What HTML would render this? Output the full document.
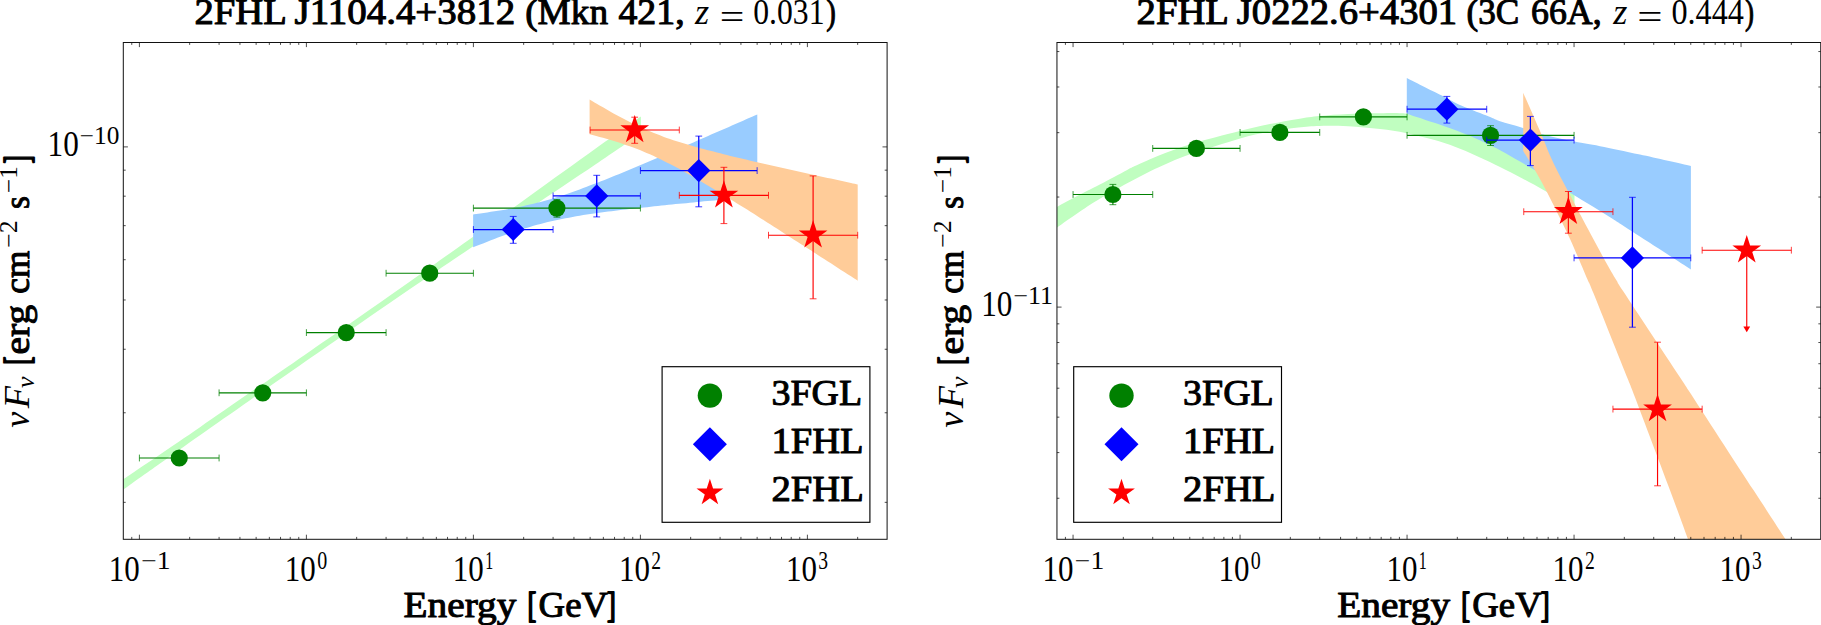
<!DOCTYPE html>
<html><head><meta charset="utf-8"><title>SED</title>
<style>html,body{margin:0;padding:0;background:#fff}svg{display:block}text{fill:#000}</style></head>
<body>
<svg width="1821" height="625" viewBox="0 0 1821 625" font-family="'Liberation Serif','DejaVu Serif',serif">
<rect width="1821" height="625" fill="#fff"/>
<defs>
<clipPath id="cl"><rect x="123.3" y="42.5" width="763.8" height="496.8"/></clipPath>
<clipPath id="cr"><rect x="1056.95" y="42.5" width="763.8" height="496.8"/></clipPath>
</defs>
<path d="M123.3 479.24C129.42 475.1 147.22 463.09 160 454.41C172.78 445.72 185 437.43 200 427.14C215 416.84 232.5 404.7 250 392.62C267.5 380.54 288.33 366.16 305 354.63C321.67 343.11 335.83 333.33 350 323.49C364.17 313.66 376.67 304.98 390 295.62C403.33 286.26 416.67 276.8 430 267.35C443.33 257.9 453.33 250.86 470 238.93C486.67 226.99 509.17 210.71 530 195.72C550.83 180.73 576.52 162.2 595 148.99C613.48 135.78 633.25 121.89 640.9 116.47L640.9 133.57C633.25 138.77 613.48 152.33 595 164.79C576.52 177.25 550.83 194.38 530 208.32C509.17 222.26 486.67 237.22 470 248.43C453.33 259.63 443.33 266.48 430 275.55C416.67 284.61 403.33 293.66 390 302.82C376.67 311.98 364.17 320.66 350 330.49C335.83 340.33 321.67 350.21 305 361.83C288.33 373.46 267.5 388 250 400.22C232.5 412.44 215 424.6 200 435.14C185 445.67 172.78 454.34 160 463.41C147.22 472.48 129.42 485.18 123.3 489.54Z" fill="#c0fec0" clip-path="url(#cl)"/>
<path d="M473.1 214.38C474.28 214.22 477.84 213.76 480.21 213.43C482.57 213.11 484.94 212.78 487.31 212.43C489.68 212.09 492.05 211.74 494.42 211.37C496.78 211 499.15 210.62 501.52 210.22C503.89 209.83 506.26 209.42 508.62 208.99C510.99 208.56 513.36 208.11 515.73 207.65C518.1 207.18 520.47 206.69 522.84 206.18C525.2 205.67 527.57 205.14 529.94 204.59C532.31 204.03 534.68 203.45 537.04 202.84C539.41 202.23 541.78 201.6 544.15 200.95C546.52 200.29 548.89 199.61 551.25 198.9C553.62 198.19 555.99 197.46 558.36 196.71C560.73 195.96 563.1 195.18 565.47 194.38C567.83 193.59 570.2 192.77 572.57 191.94C574.94 191.11 577.31 190.26 579.67 189.39C582.04 188.53 584.41 187.65 586.78 186.76C589.15 185.87 591.52 184.96 593.88 184.05C596.25 183.13 598.62 182.21 600.99 181.27C603.36 180.34 605.73 179.39 608.1 178.44C610.46 177.49 612.83 176.54 615.2 175.57C617.57 174.61 619.94 173.64 622.31 172.66C624.67 171.69 627.04 170.71 629.41 169.72C631.78 168.74 634.15 167.75 636.51 166.75C638.88 165.76 641.25 164.76 643.62 163.76C645.99 162.76 648.36 161.76 650.72 160.75C653.09 159.74 655.46 158.73 657.83 157.72C660.2 156.71 662.57 155.7 664.93 154.68C667.3 153.67 669.67 152.65 672.04 151.63C674.41 150.61 676.78 149.58 679.14 148.56C681.51 147.54 683.88 146.51 686.25 145.49C688.62 144.46 690.99 143.43 693.36 142.4C695.72 141.37 698.09 140.34 700.46 139.31C702.83 138.28 705.2 137.25 707.57 136.21C709.93 135.18 712.3 134.15 714.67 133.11C717.04 132.07 719.41 131.04 721.77 130C724.14 128.96 726.51 127.93 728.88 126.89C731.25 125.85 733.62 124.81 735.98 123.77C738.35 122.73 740.72 121.69 743.09 120.65C745.46 119.61 747.83 118.56 750.19 117.52C752.56 116.48 756.12 114.91 757.3 114.39L757.3 196.58C756.12 196.69 752.56 197 750.19 197.22C747.83 197.43 745.46 197.64 743.09 197.86C740.72 198.07 738.35 198.29 735.98 198.5C733.62 198.72 731.25 198.93 728.88 199.15C726.51 199.37 724.14 199.58 721.77 199.8C719.41 200.02 717.04 200.24 714.67 200.46C712.3 200.68 709.93 200.9 707.57 201.12C705.2 201.34 702.83 201.56 700.46 201.79C698.09 202.01 695.72 202.24 693.36 202.46C690.99 202.69 688.62 202.92 686.25 203.14C683.88 203.37 681.51 203.6 679.14 203.83C676.78 204.07 674.41 204.3 672.04 204.54C669.67 204.77 667.3 205.01 664.93 205.25C662.57 205.49 660.2 205.73 657.83 205.97C655.46 206.21 653.09 206.46 650.72 206.71C648.36 206.96 645.99 207.21 643.62 207.46C641.25 207.72 638.88 207.98 636.51 208.24C634.15 208.5 631.78 208.76 629.41 209.04C627.04 209.31 624.67 209.58 622.31 209.86C619.94 210.14 617.57 210.42 615.2 210.71C612.83 211.01 610.46 211.3 608.1 211.61C605.73 211.91 603.36 212.22 600.99 212.55C598.62 212.87 596.25 213.2 593.88 213.54C591.52 213.88 589.15 214.23 586.78 214.59C584.41 214.95 582.04 215.33 579.67 215.72C577.31 216.11 574.94 216.52 572.57 216.94C570.2 217.36 567.83 217.8 565.47 218.26C563.1 218.72 560.73 219.2 558.36 219.7C555.99 220.21 553.62 220.73 551.25 221.28C548.89 221.83 546.52 222.4 544.15 223C541.78 223.6 539.41 224.22 537.04 224.87C534.68 225.52 532.31 226.19 529.94 226.89C527.57 227.59 525.2 228.31 522.84 229.06C520.47 229.8 518.1 230.57 515.73 231.36C513.36 232.15 510.99 232.96 508.62 233.78C506.26 234.61 503.89 235.45 501.52 236.31C499.15 237.17 496.78 238.05 494.42 238.94C492.05 239.82 489.68 240.72 487.31 241.63C484.94 242.55 482.57 243.47 480.21 244.4C477.84 245.33 474.28 246.75 473.1 247.22Z" fill="#99ccff" clip-path="url(#cl)"/>
<path d="M589.6 99.43C590.72 100.09 594.07 102.1 596.3 103.41C598.54 104.73 600.77 106.04 603 107.33C605.24 108.62 607.47 109.9 609.71 111.16C611.94 112.42 614.18 113.67 616.41 114.89C618.64 116.11 620.88 117.32 623.11 118.5C625.35 119.68 627.58 120.84 629.82 121.97C632.05 123.1 634.28 124.2 636.52 125.27C638.75 126.34 640.99 127.39 643.22 128.4C645.45 129.41 647.69 130.39 649.92 131.33C652.16 132.28 654.39 133.19 656.62 134.08C658.86 134.96 661.09 135.81 663.33 136.63C665.56 137.45 667.8 138.25 670.03 139.02C672.26 139.79 674.5 140.53 676.73 141.25C678.97 141.97 681.2 142.67 683.44 143.36C685.67 144.04 687.9 144.7 690.14 145.35C692.37 146 694.61 146.64 696.84 147.26C699.07 147.88 701.31 148.49 703.54 149.09C705.78 149.69 708.01 150.28 710.25 150.86C712.48 151.44 714.71 152.01 716.95 152.58C719.18 153.15 721.42 153.7 723.65 154.26C725.88 154.81 728.12 155.36 730.35 155.9C732.59 156.44 734.82 156.98 737.06 157.51C739.29 158.05 741.52 158.58 743.76 159.1C745.99 159.63 748.23 160.15 750.46 160.67C752.69 161.19 754.93 161.71 757.16 162.22C759.4 162.73 761.63 163.25 763.87 163.76C766.1 164.27 768.33 164.77 770.57 165.28C772.8 165.78 775.04 166.29 777.27 166.79C779.5 167.29 781.74 167.79 783.97 168.29C786.21 168.79 788.44 169.29 790.68 169.78C792.91 170.28 795.14 170.77 797.38 171.27C799.61 171.76 801.85 172.25 804.08 172.74C806.31 173.24 808.55 173.73 810.78 174.22C813.02 174.71 815.25 175.19 817.49 175.68C819.72 176.17 821.95 176.66 824.19 177.14C826.42 177.63 828.66 178.12 830.89 178.6C833.12 179.09 835.36 179.57 837.59 180.06C839.83 180.54 842.06 181.02 844.3 181.5C846.53 181.99 848.76 182.47 851 182.95C853.23 183.43 856.58 184.15 857.7 184.4L857.7 280.68C856.58 279.96 853.23 277.79 851 276.34C848.76 274.89 846.53 273.44 844.3 272C842.06 270.55 839.83 269.11 837.59 267.66C835.36 266.22 833.12 264.77 830.89 263.33C828.66 261.88 826.42 260.44 824.19 259C821.95 257.56 819.72 256.11 817.49 254.67C815.25 253.23 813.02 251.79 810.78 250.35C808.55 248.91 806.31 247.48 804.08 246.04C801.85 244.6 799.61 243.16 797.38 241.73C795.14 240.29 792.91 238.86 790.68 237.43C788.44 235.99 786.21 234.56 783.97 233.13C781.74 231.7 779.5 230.27 777.27 228.85C775.04 227.42 772.8 225.99 770.57 224.57C768.33 223.15 766.1 221.72 763.87 220.3C761.63 218.89 759.4 217.47 757.16 216.05C754.93 214.64 752.69 213.23 750.46 211.82C748.23 210.41 745.99 209 743.76 207.6C741.52 206.2 739.29 204.8 737.06 203.4C734.82 202 732.59 200.61 730.35 199.23C728.12 197.84 725.88 196.46 723.65 195.08C721.42 193.71 719.18 192.34 716.95 190.97C714.71 189.61 712.48 188.25 710.25 186.9C708.01 185.56 705.78 184.22 703.54 182.89C701.31 181.56 699.07 180.24 696.84 178.93C694.61 177.63 692.37 176.33 690.14 175.05C687.9 173.77 685.67 172.51 683.44 171.26C681.2 170.02 678.97 168.78 676.73 167.58C674.5 166.37 672.26 165.19 670.03 164.03C667.8 162.87 665.56 161.73 663.33 160.63C661.09 159.52 658.86 158.44 656.62 157.39C654.39 156.35 652.16 155.33 649.92 154.35C647.69 153.37 645.45 152.42 643.22 151.5C640.99 150.58 638.75 149.69 636.52 148.84C634.28 147.98 632.05 147.15 629.82 146.35C627.58 145.55 625.35 144.79 623.11 144.04C620.88 143.29 618.64 142.56 616.41 141.86C614.18 141.15 611.94 140.47 609.71 139.8C607.47 139.13 605.24 138.49 603 137.85C600.77 137.21 598.54 136.59 596.3 135.97C594.07 135.36 590.72 134.47 589.6 134.17Z" fill="#ffcc99" clip-path="url(#cl)"/>
<path d="M139.4 458H219.08" stroke="#008000" stroke-width="1.15" fill="none"/>
<path d="M139.4 454.6V461.4M219.08 454.6V461.4" stroke="#008000" stroke-width="0.75" fill="none"/>
<path d="M219.08 392.8H306.4" stroke="#008000" stroke-width="1.15" fill="none"/>
<path d="M219.08 389.4V396.2M306.4 389.4V396.2" stroke="#008000" stroke-width="0.75" fill="none"/>
<path d="M306.4 332.6H386.08" stroke="#008000" stroke-width="1.15" fill="none"/>
<path d="M306.4 329.2V336M386.08 329.2V336" stroke="#008000" stroke-width="0.75" fill="none"/>
<path d="M386.08 273.2H473.4" stroke="#008000" stroke-width="1.15" fill="none"/>
<path d="M386.08 269.8V276.6M473.4 269.8V276.6" stroke="#008000" stroke-width="0.75" fill="none"/>
<path d="M473.4 208.1H640.4M556.9 199.5V217.2" stroke="#008000" stroke-width="1.15" fill="none"/>
<path d="M473.4 204.7V211.5M640.4 204.7V211.5M553.5 199.5H560.3M553.5 217.2H560.3" stroke="#008000" stroke-width="0.75" fill="none"/>
<circle cx="179.24" cy="458" r="8.6" fill="#008000"/>
<circle cx="262.74" cy="392.8" r="8.6" fill="#008000"/>
<circle cx="346.24" cy="332.6" r="8.6" fill="#008000"/>
<circle cx="429.74" cy="273.2" r="8.6" fill="#008000"/>
<circle cx="556.9" cy="208.1" r="8.6" fill="#008000"/>
<path d="M473.4 229.5H553.08M513.24 216.4V243.3" stroke="#0000ff" stroke-width="1.25" fill="none"/>
<path d="M473.4 226.1V232.9M553.08 226.1V232.9M509.84 216.4H516.64M509.84 243.3H516.64" stroke="#0000ff" stroke-width="0.75" fill="none"/>
<path d="M553.08 195.9H640.4M596.74 175.3V216.9" stroke="#0000ff" stroke-width="1.25" fill="none"/>
<path d="M553.08 192.5V199.3M640.4 192.5V199.3M593.34 175.3H600.14M593.34 216.9H600.14" stroke="#0000ff" stroke-width="0.75" fill="none"/>
<path d="M640.4 170.6H757.13M698.76 136.1V206.8" stroke="#0000ff" stroke-width="1.25" fill="none"/>
<path d="M640.4 167.2V174M757.13 167.2V174M695.36 136.1H702.16M695.36 206.8H702.16" stroke="#0000ff" stroke-width="0.75" fill="none"/>
<polygon points="513.24,217.9 524.84,229.5 513.24,241.1 501.64,229.5" fill="#0000ff"/>
<polygon points="596.74,184.3 608.34,195.9 596.74,207.5 585.14,195.9" fill="#0000ff"/>
<polygon points="698.76,159 710.36,170.6 698.76,182.2 687.16,170.6" fill="#0000ff"/>
<path d="M590.1 130H679.3M634.7 117.2V143.3" stroke="#ff0000" stroke-width="1.15" fill="none"/>
<path d="M590.1 126.6V133.4M679.3 126.6V133.4M631.3 117.2H638.1M631.3 143.3H638.1" stroke="#ff0000" stroke-width="0.75" fill="none"/>
<path d="M679.3 195.3H768.5M723.9 167.3V223.6" stroke="#ff0000" stroke-width="1.15" fill="none"/>
<path d="M679.3 191.9V198.7M768.5 191.9V198.7M720.5 167.3H727.3M720.5 223.6H727.3" stroke="#ff0000" stroke-width="0.75" fill="none"/>
<path d="M768.5 235.2H857.7M813.1 175.9V298.8" stroke="#ff0000" stroke-width="1.15" fill="none"/>
<path d="M768.5 231.8V238.6M857.7 231.8V238.6M809.7 175.9H816.5M809.7 298.8H816.5" stroke="#ff0000" stroke-width="0.75" fill="none"/>
<polygon points="634.7,114.9 638.09,125.33 649.06,125.33 640.19,131.78 643.58,142.22 634.7,135.77 625.82,142.22 629.21,131.78 620.34,125.33 631.31,125.33" fill="#ff0000"/>
<polygon points="723.9,180.2 727.29,190.63 738.26,190.63 729.39,197.08 732.78,207.52 723.9,201.07 715.02,207.52 718.41,197.08 709.54,190.63 720.51,190.63" fill="#ff0000"/>
<polygon points="813.1,220.1 816.49,230.53 827.46,230.53 818.59,236.98 821.98,247.42 813.1,240.97 804.22,247.42 807.61,236.98 798.74,230.53 809.71,230.53" fill="#ff0000"/>
<path d="M131.76 539.3v-2.4M131.76 42.5v2.4M139.4 539.3v-4.6M139.4 42.5v4.6M189.67 539.3v-2.4M189.67 42.5v2.4M219.08 539.3v-2.4M219.08 42.5v2.4M239.94 539.3v-2.4M239.94 42.5v2.4M256.13 539.3v-2.4M256.13 42.5v2.4M269.35 539.3v-2.4M269.35 42.5v2.4M280.53 539.3v-2.4M280.53 42.5v2.4M290.22 539.3v-2.4M290.22 42.5v2.4M298.76 539.3v-2.4M298.76 42.5v2.4M306.4 539.3v-4.6M306.4 42.5v4.6M356.67 539.3v-2.4M356.67 42.5v2.4M386.08 539.3v-2.4M386.08 42.5v2.4M406.94 539.3v-2.4M406.94 42.5v2.4M423.13 539.3v-2.4M423.13 42.5v2.4M436.35 539.3v-2.4M436.35 42.5v2.4M447.53 539.3v-2.4M447.53 42.5v2.4M457.22 539.3v-2.4M457.22 42.5v2.4M465.76 539.3v-2.4M465.76 42.5v2.4M473.4 539.3v-4.6M473.4 42.5v4.6M523.67 539.3v-2.4M523.67 42.5v2.4M553.08 539.3v-2.4M553.08 42.5v2.4M573.94 539.3v-2.4M573.94 42.5v2.4M590.13 539.3v-2.4M590.13 42.5v2.4M603.35 539.3v-2.4M603.35 42.5v2.4M614.53 539.3v-2.4M614.53 42.5v2.4M624.22 539.3v-2.4M624.22 42.5v2.4M632.76 539.3v-2.4M632.76 42.5v2.4M640.4 539.3v-4.6M640.4 42.5v4.6M690.67 539.3v-2.4M690.67 42.5v2.4M720.08 539.3v-2.4M720.08 42.5v2.4M740.94 539.3v-2.4M740.94 42.5v2.4M757.13 539.3v-2.4M757.13 42.5v2.4M770.35 539.3v-2.4M770.35 42.5v2.4M781.53 539.3v-2.4M781.53 42.5v2.4M791.22 539.3v-2.4M791.22 42.5v2.4M799.76 539.3v-2.4M799.76 42.5v2.4M807.4 539.3v-4.6M807.4 42.5v4.6M857.67 539.3v-2.4M857.67 42.5v2.4M123.3 146.9h4.6M887.1 146.9h-4.6M123.3 502.33h2.4M887.1 502.33h-2.4M123.3 412.78h2.4M887.1 412.78h-2.4M123.3 349.25h2.4M887.1 349.25h-2.4M123.3 299.97h2.4M887.1 299.97h-2.4M123.3 259.71h2.4M887.1 259.71h-2.4M123.3 225.67h2.4M887.1 225.67h-2.4M123.3 196.18h2.4M887.1 196.18h-2.4M123.3 170.17h2.4M887.1 170.17h-2.4" stroke="#000" stroke-width="0.7" fill="none"/>
<rect x="123.3" y="42.5" width="763.8" height="496.8" fill="none" stroke="#111" stroke-width="1"/>
<text x="108.8" y="580.9" font-size="35.4" textLength="31" lengthAdjust="spacingAndGlyphs">10</text>
<text x="141.2" y="569" font-size="24.2" textLength="29.4" lengthAdjust="spacingAndGlyphs">−1</text>
<text x="284.8" y="580.9" font-size="35.4" textLength="31" lengthAdjust="spacingAndGlyphs">10</text>
<text x="317.2" y="569" font-size="24.2" textLength="10" lengthAdjust="spacingAndGlyphs">0</text>
<text x="452.8" y="580.9" font-size="35.4" textLength="31" lengthAdjust="spacingAndGlyphs">10</text>
<text x="485.2" y="569" font-size="24.2" textLength="8" lengthAdjust="spacingAndGlyphs">1</text>
<text x="618.9" y="580.9" font-size="35.4" textLength="31" lengthAdjust="spacingAndGlyphs">10</text>
<text x="651.3" y="569" font-size="24.2" textLength="9.8" lengthAdjust="spacingAndGlyphs">2</text>
<text x="785.9" y="580.9" font-size="35.4" textLength="31" lengthAdjust="spacingAndGlyphs">10</text>
<text x="818.3" y="569" font-size="24.2" textLength="9.8" lengthAdjust="spacingAndGlyphs">3</text>
<text x="47.6" y="156" font-size="35.4" textLength="31.2" lengthAdjust="spacingAndGlyphs">10</text>
<text x="79.8" y="143.5" font-size="24.2" textLength="39.6" lengthAdjust="spacingAndGlyphs">−10</text>
<text x="403.6" y="617.4" font-size="35.3" stroke="#000" stroke-width="1" stroke-linejoin="round" textLength="112.8" lengthAdjust="spacingAndGlyphs">Energy</text>
<text x="527.5" y="617.4" font-size="35.3" stroke="#000" stroke-width="1.9" stroke-linejoin="round" textLength="8.8" lengthAdjust="spacingAndGlyphs">[</text>
<text x="538.6" y="617.4" font-size="35.3" stroke="#000" stroke-width="1" stroke-linejoin="round" textLength="69.6" lengthAdjust="spacingAndGlyphs">GeV</text>
<text x="607.1" y="617.4" font-size="35.3" stroke="#000" stroke-width="1.9" stroke-linejoin="round" textLength="8.8" lengthAdjust="spacingAndGlyphs">]</text>
<g transform="translate(29,427.7) rotate(-90)">
<text x="0" y="0" font-size="36" font-style="italic" textLength="15.9" lengthAdjust="spacingAndGlyphs">ν</text>
<text x="19.4" y="0" font-size="36" font-style="italic" textLength="22.3" lengthAdjust="spacingAndGlyphs">F</text>
<text x="39.7" y="5" font-size="25" font-style="italic" textLength="11.4" lengthAdjust="spacingAndGlyphs">ν</text>
<text x="63" y="0" font-size="35.9" stroke="#000" stroke-width="1.9" stroke-linejoin="round" textLength="8.2" lengthAdjust="spacingAndGlyphs">[</text>
<text x="73.1" y="0" font-size="35.9" stroke="#000" stroke-width="1" stroke-linejoin="round" textLength="49.8" lengthAdjust="spacingAndGlyphs">erg</text>
<text x="134" y="0" font-size="35.9" stroke="#000" stroke-width="1" stroke-linejoin="round" textLength="43.1" lengthAdjust="spacingAndGlyphs">cm</text>
<text x="180" y="-12.1" font-size="24.2" textLength="27.3" lengthAdjust="spacingAndGlyphs">−2</text>
<text x="218.7" y="0" font-size="35.9" stroke="#000" stroke-width="1" stroke-linejoin="round" textLength="12.9" lengthAdjust="spacingAndGlyphs">s</text>
<text x="234.7" y="-12.1" font-size="24.2" textLength="26.8" lengthAdjust="spacingAndGlyphs">−1</text>
<text x="264.1" y="0" font-size="35.9" stroke="#000" stroke-width="1.9" stroke-linejoin="round" textLength="8.2" lengthAdjust="spacingAndGlyphs">]</text>
</g>
<rect x="662.1" y="366.7" width="207.8" height="155.6" fill="#fff" stroke="#000" stroke-width="1.15"/>
<circle cx="709.9" cy="395.6" r="12.2" fill="#008000"/>
<polygon points="709.9,427.2 726.9,444.2 709.9,461.2 692.9,444.2" fill="#0000ff"/>
<polygon points="709.9,478.8 713.07,488.54 723.31,488.54 715.02,494.56 718.19,504.31 709.9,498.29 701.61,504.31 704.78,494.56 696.49,488.54 706.73,488.54" fill="#ff0000"/>
<text x="771.5" y="404.8" font-size="35.9" stroke="#000" stroke-width="1" stroke-linejoin="round" textLength="90.6" lengthAdjust="spacingAndGlyphs">3FGL</text>
<text x="771.5" y="452.8" font-size="35.9" stroke="#000" stroke-width="1" stroke-linejoin="round" textLength="92" lengthAdjust="spacingAndGlyphs">1FHL</text>
<text x="771.5" y="501.2" font-size="35.9" stroke="#000" stroke-width="1" stroke-linejoin="round" textLength="92.4" lengthAdjust="spacingAndGlyphs">2FHL</text>
<text x="194.4" y="24.3" font-size="36.1" stroke="#000" stroke-width="1" stroke-linejoin="round" textLength="92.4" lengthAdjust="spacingAndGlyphs">2FHL</text>
<text x="294.6" y="24.3" font-size="36.1" stroke="#000" stroke-width="1" stroke-linejoin="round" textLength="220.6" lengthAdjust="spacingAndGlyphs">J1104.4+3812</text>
<text x="525.2" y="24.3" font-size="36.1" stroke="#000" stroke-width="1" stroke-linejoin="round" textLength="82.9" lengthAdjust="spacingAndGlyphs">(Mkn</text>
<text x="618.4" y="24.3" font-size="36.1" stroke="#000" stroke-width="1" stroke-linejoin="round" textLength="66.2" lengthAdjust="spacingAndGlyphs">421,</text>
<text x="695.1" y="24.3" font-size="36" font-style="italic" textLength="14.1" lengthAdjust="spacingAndGlyphs">z</text>
<text x="719.8" y="28.5" font-size="36" textLength="24.6" lengthAdjust="spacingAndGlyphs">=</text>
<text x="753.3" y="24.3" font-size="35.6" textLength="71.2" lengthAdjust="spacingAndGlyphs">0.031</text>
<text x="826.3" y="24.3" font-size="36.1" stroke="#000" stroke-width="1" stroke-linejoin="round" textLength="9.6" lengthAdjust="spacingAndGlyphs">)</text>
<path d="M1056.9 207C1060.75 204.93 1072.85 198.33 1080 194.6C1087.15 190.87 1092.02 188.67 1099.8 184.6C1107.58 180.53 1121.12 173.17 1126.7 170.2C1132.28 167.23 1129.42 168.63 1133.3 166.8C1137.18 164.97 1144.45 161.58 1150 159.2C1155.55 156.82 1161.07 154.63 1166.6 152.5C1172.13 150.37 1177.63 148.25 1183.2 146.4C1188.77 144.55 1194.45 142.97 1200 141.4C1205.55 139.83 1209.72 138.77 1216.5 137C1223.28 135.23 1231.78 132.97 1240.7 130.8C1249.62 128.63 1260.42 125.98 1270 124C1279.58 122.02 1289.95 120.23 1298.2 118.9C1306.45 117.57 1311.17 116.82 1319.5 116C1327.83 115.18 1338.12 114.47 1348.2 114C1358.28 113.53 1370.27 113.25 1380 113.2C1389.73 113.15 1396.6 112.57 1406.6 113.7C1416.6 114.83 1427.77 116.62 1440 120C1452.23 123.38 1466.67 128.17 1480 134C1493.33 139.83 1504.25 146.17 1520 155C1535.75 163.83 1565.42 181.67 1574.5 187L1574.5 208C1569.55 205.13 1553.48 195.72 1544.8 190.8C1536.12 185.88 1529.87 182.47 1522.4 178.5C1514.93 174.53 1507.07 170.5 1500 167C1492.93 163.5 1486.67 160.53 1480 157.5C1473.33 154.47 1466.97 151.55 1460 148.8C1453.03 146.05 1447.1 143.58 1438.2 141C1429.3 138.42 1416.3 135.28 1406.6 133.3C1396.9 131.32 1389.73 130.27 1380 129.1C1370.27 127.93 1358.28 126.83 1348.2 126.3C1338.12 125.77 1327.83 125.72 1319.5 125.9C1311.17 126.08 1306.45 126.45 1298.2 127.4C1289.95 128.35 1279.53 129.8 1270 131.6C1260.47 133.4 1249.92 135.83 1241 138.2C1232.08 140.57 1223.33 143.7 1216.5 145.8C1209.67 147.9 1205.55 148.97 1200 150.8C1194.45 152.63 1188.77 154.65 1183.2 156.8C1177.63 158.95 1172.1 161.3 1166.6 163.7C1161.1 166.1 1156.85 167.88 1150.2 171.2C1143.55 174.52 1135.1 179 1126.7 183.6C1118.3 188.2 1107.58 194.13 1099.8 198.8C1092.02 203.47 1087.15 206.78 1080 211.6C1072.85 216.42 1060.75 225.02 1056.9 227.7Z" fill="#c0fec0" clip-path="url(#cr)"/>
<path d="M1406.8 78C1409.83 79.53 1418.8 84.1 1425 87.2C1431.2 90.3 1438.47 93.77 1444 96.6C1449.53 99.43 1451.12 101.03 1458.2 104.2C1465.28 107.37 1479.53 112.77 1486.5 115.6C1493.47 118.43 1494.18 119.23 1500 121.2C1505.82 123.17 1514.5 125.27 1521.4 127.4C1528.3 129.53 1532.55 131.63 1541.4 134C1550.25 136.37 1564.73 139.57 1574.5 141.6C1584.27 143.63 1589.08 144.03 1600 146.2C1610.92 148.37 1624.85 151.3 1640 154.6C1655.15 157.9 1682.42 164.1 1690.9 166L1690.9 269.4C1681.12 263.1 1645.33 240.07 1632.2 231.6C1619.07 223.13 1618.8 222.87 1612.1 218.6C1605.4 214.33 1598.72 210.15 1592 206C1585.28 201.85 1578.47 197.87 1571.8 193.7C1565.13 189.53 1558.33 185.02 1552 181C1545.67 176.98 1539.97 173.3 1533.8 169.6C1527.63 165.9 1521.22 162.35 1515 158.8C1508.78 155.25 1502.37 151.4 1496.5 148.3C1490.63 145.2 1485.35 142.7 1479.8 140.2C1474.25 137.7 1470.13 135.98 1463.2 133.3C1456.27 130.62 1447.6 127.37 1438.2 124.1C1428.8 120.83 1412.03 115.43 1406.8 113.7Z" fill="#99ccff" clip-path="url(#cr)"/>
<path d="M1523.2 92.8C1524.93 96.73 1530.57 109.48 1533.6 116.4C1536.63 123.32 1538.7 127.87 1541.4 134.3C1544.1 140.73 1546.97 148.55 1549.8 155C1552.63 161.45 1555.1 166.5 1558.4 173C1561.7 179.5 1565.87 186.9 1569.6 194C1573.33 201.1 1574.77 204.27 1580.8 215.6C1586.83 226.93 1599.73 251 1605.8 262C1611.87 273 1614.27 276.67 1617.2 281.6C1620.13 286.53 1612.53 275.03 1623.4 291.6C1634.27 308.17 1671.53 364.53 1682.4 381C1693.27 397.47 1676.7 372.13 1688.6 390.4C1700.5 408.67 1737.65 465.78 1753.8 490.6C1769.95 515.42 1777.8 527.47 1785.5 539.3C1793.2 551.13 1797.58 557.88 1800 561.6L1696 561.2C1694.67 557.55 1692.32 551.1 1688 539.3C1683.68 527.5 1679.4 515.28 1670.1 490.4C1660.8 465.52 1639.25 408.57 1632.2 390C1625.15 371.43 1634.27 395.17 1627.8 379C1621.33 362.83 1600.15 309.67 1593.4 293C1586.65 276.33 1591.12 287.83 1587.3 279C1583.48 270.17 1575.5 251.05 1570.5 240C1565.5 228.95 1561.18 220.6 1557.3 212.7C1553.42 204.8 1550.75 199.38 1547.2 192.6C1543.65 185.82 1540 178.93 1536 172C1532 165.07 1525.33 154.5 1523.2 151Z" fill="#ffcc99" clip-path="url(#cr)"/>
<path d="M1073.05 194.5H1152.73M1112.89 184.4V204.7" stroke="#008000" stroke-width="1.15" fill="none"/>
<path d="M1073.05 191.1V197.9M1152.73 191.1V197.9M1109.49 184.4H1116.29M1109.49 204.7H1116.29" stroke="#008000" stroke-width="0.75" fill="none"/>
<path d="M1152.73 148.4H1240.05" stroke="#008000" stroke-width="1.15" fill="none"/>
<path d="M1152.73 145V151.8M1240.05 145V151.8" stroke="#008000" stroke-width="0.75" fill="none"/>
<path d="M1240.05 132.4H1319.73" stroke="#008000" stroke-width="1.15" fill="none"/>
<path d="M1240.05 129V135.8M1319.73 129V135.8" stroke="#008000" stroke-width="0.75" fill="none"/>
<path d="M1319.73 116.9H1407.05" stroke="#008000" stroke-width="1.15" fill="none"/>
<path d="M1319.73 113.5V120.3M1407.05 113.5V120.3" stroke="#008000" stroke-width="0.75" fill="none"/>
<path d="M1407.05 135.3H1574.05M1490.55 125.7V145.5" stroke="#008000" stroke-width="1.15" fill="none"/>
<path d="M1407.05 131.9V138.7M1574.05 131.9V138.7M1487.15 125.7H1493.95M1487.15 145.5H1493.95" stroke="#008000" stroke-width="0.75" fill="none"/>
<circle cx="1112.89" cy="194.5" r="8.6" fill="#008000"/>
<circle cx="1196.39" cy="148.4" r="8.6" fill="#008000"/>
<circle cx="1279.89" cy="132.4" r="8.6" fill="#008000"/>
<circle cx="1363.39" cy="116.9" r="8.6" fill="#008000"/>
<circle cx="1490.55" cy="135.3" r="8.6" fill="#008000"/>
<path d="M1407.05 109.2H1486.73M1446.89 96.4V123.1" stroke="#0000ff" stroke-width="1.25" fill="none"/>
<path d="M1407.05 105.8V112.6M1486.73 105.8V112.6M1443.49 96.4H1450.29M1443.49 123.1H1450.29" stroke="#0000ff" stroke-width="0.75" fill="none"/>
<path d="M1486.73 140.1H1574.05M1530.39 116.4V165.6" stroke="#0000ff" stroke-width="1.25" fill="none"/>
<path d="M1486.73 136.7V143.5M1574.05 136.7V143.5M1526.99 116.4H1533.79M1526.99 165.6H1533.79" stroke="#0000ff" stroke-width="0.75" fill="none"/>
<path d="M1574.05 257.9H1690.78M1632.41 197.3V327.2" stroke="#0000ff" stroke-width="1.25" fill="none"/>
<path d="M1574.05 254.5V261.3M1690.78 254.5V261.3M1629.01 197.3H1635.81M1629.01 327.2H1635.81" stroke="#0000ff" stroke-width="0.75" fill="none"/>
<polygon points="1446.89,97.6 1458.49,109.2 1446.89,120.8 1435.29,109.2" fill="#0000ff"/>
<polygon points="1530.39,128.5 1541.99,140.1 1530.39,151.7 1518.79,140.1" fill="#0000ff"/>
<polygon points="1632.41,246.3 1644.01,257.9 1632.41,269.5 1620.81,257.9" fill="#0000ff"/>
<path d="M1523.75 211.7H1612.95M1568.35 191.5V233.2" stroke="#ff0000" stroke-width="1.15" fill="none"/>
<path d="M1523.75 208.3V215.1M1612.95 208.3V215.1M1564.95 191.5H1571.75M1564.95 233.2H1571.75" stroke="#ff0000" stroke-width="0.75" fill="none"/>
<path d="M1612.95 409.1H1702.15M1657.55 342.2V485.8" stroke="#ff0000" stroke-width="1.15" fill="none"/>
<path d="M1612.95 405.7V412.5M1702.15 405.7V412.5M1654.15 342.2H1660.95M1654.15 485.8H1660.95" stroke="#ff0000" stroke-width="0.75" fill="none"/>
<path d="M1702.15 250.2H1791.35" stroke="#ff0000" stroke-width="1.15" fill="none"/>
<path d="M1702.15 246.8V253.6M1791.35 246.8V253.6" stroke="#ff0000" stroke-width="0.75" fill="none"/>
<path d="M1746.75 250.2V327" stroke="#ff0000" stroke-width="1.15"/>
<polygon points="1743.35,326.6 1750.15,326.6 1746.75,332.2" fill="#ff0000"/>
<polygon points="1568.35,196.6 1571.74,207.03 1582.71,207.03 1573.84,213.48 1577.23,223.92 1568.35,217.47 1559.47,223.92 1562.86,213.48 1553.99,207.03 1564.96,207.03" fill="#ff0000"/>
<polygon points="1657.55,394 1660.94,404.43 1671.91,404.43 1663.04,410.88 1666.43,421.32 1657.55,414.87 1648.67,421.32 1652.06,410.88 1643.19,404.43 1654.16,404.43" fill="#ff0000"/>
<polygon points="1746.75,235.1 1750.14,245.53 1761.11,245.53 1752.24,251.98 1755.63,262.42 1746.75,255.97 1737.87,262.42 1741.26,251.98 1732.39,245.53 1743.36,245.53" fill="#ff0000"/>
<path d="M1065.41 539.3v-2.4M1065.41 42.5v2.4M1073.05 539.3v-4.6M1073.05 42.5v4.6M1123.32 539.3v-2.4M1123.32 42.5v2.4M1152.73 539.3v-2.4M1152.73 42.5v2.4M1173.59 539.3v-2.4M1173.59 42.5v2.4M1189.78 539.3v-2.4M1189.78 42.5v2.4M1203 539.3v-2.4M1203 42.5v2.4M1214.18 539.3v-2.4M1214.18 42.5v2.4M1223.87 539.3v-2.4M1223.87 42.5v2.4M1232.41 539.3v-2.4M1232.41 42.5v2.4M1240.05 539.3v-4.6M1240.05 42.5v4.6M1290.32 539.3v-2.4M1290.32 42.5v2.4M1319.73 539.3v-2.4M1319.73 42.5v2.4M1340.59 539.3v-2.4M1340.59 42.5v2.4M1356.78 539.3v-2.4M1356.78 42.5v2.4M1370 539.3v-2.4M1370 42.5v2.4M1381.18 539.3v-2.4M1381.18 42.5v2.4M1390.87 539.3v-2.4M1390.87 42.5v2.4M1399.41 539.3v-2.4M1399.41 42.5v2.4M1407.05 539.3v-4.6M1407.05 42.5v4.6M1457.32 539.3v-2.4M1457.32 42.5v2.4M1486.73 539.3v-2.4M1486.73 42.5v2.4M1507.59 539.3v-2.4M1507.59 42.5v2.4M1523.78 539.3v-2.4M1523.78 42.5v2.4M1537 539.3v-2.4M1537 42.5v2.4M1548.18 539.3v-2.4M1548.18 42.5v2.4M1557.87 539.3v-2.4M1557.87 42.5v2.4M1566.41 539.3v-2.4M1566.41 42.5v2.4M1574.05 539.3v-4.6M1574.05 42.5v4.6M1624.32 539.3v-2.4M1624.32 42.5v2.4M1653.73 539.3v-2.4M1653.73 42.5v2.4M1674.59 539.3v-2.4M1674.59 42.5v2.4M1690.78 539.3v-2.4M1690.78 42.5v2.4M1704 539.3v-2.4M1704 42.5v2.4M1715.18 539.3v-2.4M1715.18 42.5v2.4M1724.87 539.3v-2.4M1724.87 42.5v2.4M1733.41 539.3v-2.4M1733.41 42.5v2.4M1741.05 539.3v-4.6M1741.05 42.5v4.6M1791.32 539.3v-2.4M1791.32 42.5v2.4M1056.95 307.1h4.6M1820.75 307.1h-4.6M1056.95 498.26h2.4M1820.75 498.26h-2.4M1056.95 452.59h2.4M1820.75 452.59h-2.4M1056.95 417.16h2.4M1820.75 417.16h-2.4M1056.95 388.21h2.4M1820.75 388.21h-2.4M1056.95 363.73h2.4M1820.75 363.73h-2.4M1056.95 342.53h2.4M1820.75 342.53h-2.4M1056.95 323.83h2.4M1820.75 323.83h-2.4M1056.95 197.04h2.4M1820.75 197.04h-2.4M1056.95 132.66h2.4M1820.75 132.66h-2.4M1056.95 86.99h2.4M1820.75 86.99h-2.4M1056.95 51.56h2.4M1820.75 51.56h-2.4" stroke="#000" stroke-width="0.7" fill="none"/>
<rect x="1056.95" y="42.5" width="763.8" height="496.8" fill="none" stroke="#111" stroke-width="1"/>
<text x="1042.45" y="580.9" font-size="35.4" textLength="31" lengthAdjust="spacingAndGlyphs">10</text>
<text x="1074.85" y="569" font-size="24.2" textLength="29.4" lengthAdjust="spacingAndGlyphs">−1</text>
<text x="1218.45" y="580.9" font-size="35.4" textLength="31" lengthAdjust="spacingAndGlyphs">10</text>
<text x="1250.85" y="569" font-size="24.2" textLength="10" lengthAdjust="spacingAndGlyphs">0</text>
<text x="1386.45" y="580.9" font-size="35.4" textLength="31" lengthAdjust="spacingAndGlyphs">10</text>
<text x="1418.85" y="569" font-size="24.2" textLength="8" lengthAdjust="spacingAndGlyphs">1</text>
<text x="1552.55" y="580.9" font-size="35.4" textLength="31" lengthAdjust="spacingAndGlyphs">10</text>
<text x="1584.95" y="569" font-size="24.2" textLength="9.8" lengthAdjust="spacingAndGlyphs">2</text>
<text x="1719.55" y="580.9" font-size="35.4" textLength="31" lengthAdjust="spacingAndGlyphs">10</text>
<text x="1751.95" y="569" font-size="24.2" textLength="9.8" lengthAdjust="spacingAndGlyphs">3</text>
<text x="981.25" y="316.2" font-size="35.4" textLength="31.2" lengthAdjust="spacingAndGlyphs">10</text>
<text x="1013.45" y="303.7" font-size="24.2" textLength="39.6" lengthAdjust="spacingAndGlyphs">−11</text>
<text x="1337.25" y="617.4" font-size="35.3" stroke="#000" stroke-width="1" stroke-linejoin="round" textLength="112.8" lengthAdjust="spacingAndGlyphs">Energy</text>
<text x="1461.15" y="617.4" font-size="35.3" stroke="#000" stroke-width="1.9" stroke-linejoin="round" textLength="8.8" lengthAdjust="spacingAndGlyphs">[</text>
<text x="1472.25" y="617.4" font-size="35.3" stroke="#000" stroke-width="1" stroke-linejoin="round" textLength="69.6" lengthAdjust="spacingAndGlyphs">GeV</text>
<text x="1540.75" y="617.4" font-size="35.3" stroke="#000" stroke-width="1.9" stroke-linejoin="round" textLength="8.8" lengthAdjust="spacingAndGlyphs">]</text>
<g transform="translate(962.65,427.7) rotate(-90)">
<text x="0" y="0" font-size="36" font-style="italic" textLength="15.9" lengthAdjust="spacingAndGlyphs">ν</text>
<text x="19.4" y="0" font-size="36" font-style="italic" textLength="22.3" lengthAdjust="spacingAndGlyphs">F</text>
<text x="39.7" y="5" font-size="25" font-style="italic" textLength="11.4" lengthAdjust="spacingAndGlyphs">ν</text>
<text x="63" y="0" font-size="35.9" stroke="#000" stroke-width="1.9" stroke-linejoin="round" textLength="8.2" lengthAdjust="spacingAndGlyphs">[</text>
<text x="73.1" y="0" font-size="35.9" stroke="#000" stroke-width="1" stroke-linejoin="round" textLength="49.8" lengthAdjust="spacingAndGlyphs">erg</text>
<text x="134" y="0" font-size="35.9" stroke="#000" stroke-width="1" stroke-linejoin="round" textLength="43.1" lengthAdjust="spacingAndGlyphs">cm</text>
<text x="180" y="-12.1" font-size="24.2" textLength="27.3" lengthAdjust="spacingAndGlyphs">−2</text>
<text x="218.7" y="0" font-size="35.9" stroke="#000" stroke-width="1" stroke-linejoin="round" textLength="12.9" lengthAdjust="spacingAndGlyphs">s</text>
<text x="234.7" y="-12.1" font-size="24.2" textLength="26.8" lengthAdjust="spacingAndGlyphs">−1</text>
<text x="264.1" y="0" font-size="35.9" stroke="#000" stroke-width="1.9" stroke-linejoin="round" textLength="8.2" lengthAdjust="spacingAndGlyphs">]</text>
</g>
<rect x="1073.7" y="366.7" width="207.8" height="155.6" fill="#fff" stroke="#000" stroke-width="1.15"/>
<circle cx="1121.5" cy="395.6" r="12.2" fill="#008000"/>
<polygon points="1121.5,427.2 1138.5,444.2 1121.5,461.2 1104.5,444.2" fill="#0000ff"/>
<polygon points="1121.5,478.8 1124.67,488.54 1134.91,488.54 1126.62,494.56 1129.79,504.31 1121.5,498.29 1113.21,504.31 1116.38,494.56 1108.09,488.54 1118.33,488.54" fill="#ff0000"/>
<text x="1183.1" y="404.8" font-size="35.9" stroke="#000" stroke-width="1" stroke-linejoin="round" textLength="90.6" lengthAdjust="spacingAndGlyphs">3FGL</text>
<text x="1183.1" y="452.8" font-size="35.9" stroke="#000" stroke-width="1" stroke-linejoin="round" textLength="92" lengthAdjust="spacingAndGlyphs">1FHL</text>
<text x="1183.1" y="501.2" font-size="35.9" stroke="#000" stroke-width="1" stroke-linejoin="round" textLength="92.4" lengthAdjust="spacingAndGlyphs">2FHL</text>
<text x="1136.6" y="24.3" font-size="36.1" stroke="#000" stroke-width="1" stroke-linejoin="round" textLength="92.4" lengthAdjust="spacingAndGlyphs">2FHL</text>
<text x="1236.8" y="24.3" font-size="36.1" stroke="#000" stroke-width="1" stroke-linejoin="round" textLength="220.3" lengthAdjust="spacingAndGlyphs">J0222.6+4301</text>
<text x="1466.5" y="24.3" font-size="36.1" stroke="#000" stroke-width="1" stroke-linejoin="round" textLength="52.8" lengthAdjust="spacingAndGlyphs">(3C</text>
<text x="1531" y="24.3" font-size="36.1" stroke="#000" stroke-width="1" stroke-linejoin="round" textLength="70.6" lengthAdjust="spacingAndGlyphs">66A,</text>
<text x="1613.2" y="24.3" font-size="36" font-style="italic" textLength="14.1" lengthAdjust="spacingAndGlyphs">z</text>
<text x="1637.2" y="28.5" font-size="36" textLength="25.3" lengthAdjust="spacingAndGlyphs">=</text>
<text x="1671.4" y="24.3" font-size="35.6" textLength="72.5" lengthAdjust="spacingAndGlyphs">0.444</text>
<text x="1745" y="24.3" font-size="36.1" stroke="#000" stroke-width="1" stroke-linejoin="round" textLength="9" lengthAdjust="spacingAndGlyphs">)</text>
</svg>
</body></html>
